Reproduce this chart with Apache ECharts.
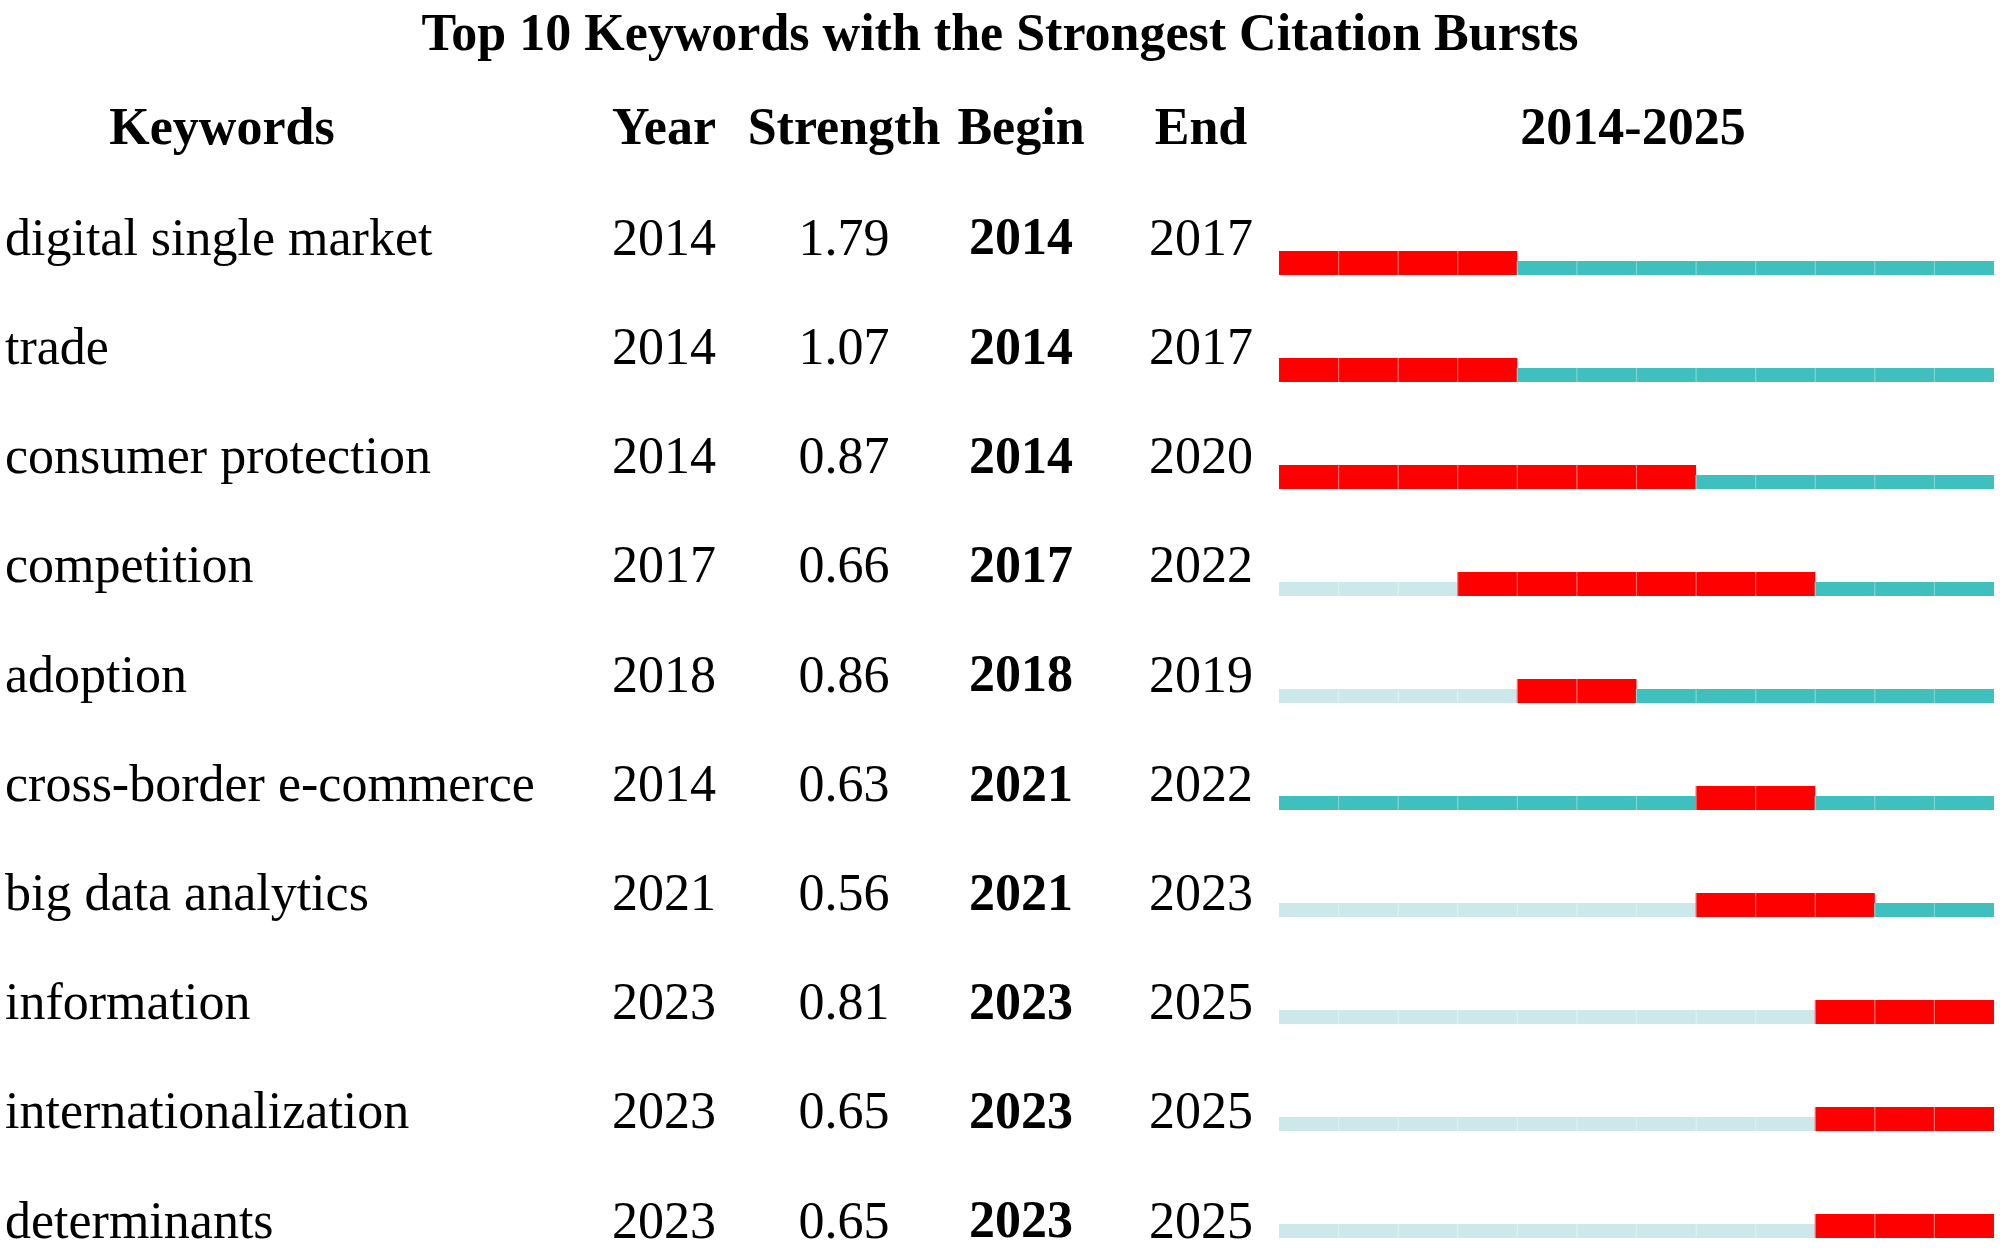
<!DOCTYPE html>
<html>
<head>
<meta charset="utf-8">
<title>Top 10 Keywords with the Strongest Citation Bursts</title>
<script src="https://cdn.jsdelivr.net/npm/echarts@6/dist/echarts.min.js"></script>
<style>
  html, body { margin: 0; padding: 0; background: #ffffff; }
  #chart { width: 2000px; height: 1251px; }
</style>
</head>
<body>
<div id="chart"></div>
<script>
// ---------------- data ----------------
const keywords = ['digital single market', 'trade', 'consumer protection', 'competition', 'adoption',
  'cross-border e-commerce', 'big data analytics', 'information', 'internationalization', 'determinants'];
const years = [2014, 2014, 2014, 2017, 2018, 2014, 2021, 2023, 2023, 2023];
const strengths = [1.79, 1.07, 0.87, 0.66, 0.86, 0.63, 0.56, 0.81, 0.65, 0.65];
const begins = [2014, 2014, 2014, 2017, 2018, 2021, 2021, 2023, 2023, 2023];
const ends = [2017, 2017, 2020, 2022, 2019, 2022, 2023, 2025, 2025, 2025];
const spanStart = 2014;
const spanEnd = 2025;
const headers = ['Keywords', 'Year', 'Strength', 'Begin', 'End', spanStart + '-' + spanEnd];
const titleText = 'Top 10 Keywords with the Strongest Citation Bursts';

// ---------------- layout ----------------
const FONT = '"Liberation Serif", "Times New Roman", Times, serif';
const FS = 52;
const colX = { keyword: 5, year: 664, strength: 844, begin: 1021, end: 1201 };
const headerX = [222, 664, 844, 1021, 1201, 1633];
const headerY = 131;

const COLORS = {
  burst: '#FF0000', burstLine: '#FF6A6A',
  active: '#40BFBF', activeLine: '#7ED4D4',
  before: '#CCE8EA', beforeLine: '#DDF0F1'
};

// cells of the timeline
const cells = [];
keywords.forEach((k, i) => {
  for (let y = spanStart; y <= spanEnd; y++) {
    let t;
    if (y >= begins[i] && y <= ends[i]) t = 2;
    else if (y < years[i]) t = 0;
    else t = 1;
    cells.push([y, i, t]);
  }
});

function textSeries(getText, x, align, bold) {
  return {
    type: 'custom',
    xAxisIndex: 1, yAxisIndex: 1,
    silent: true,
    data: keywords.map((k, i) => [x, i]),
    renderItem: function (params, api) {
      const p = api.coord([api.value(0), api.value(1)]);
      return {
        type: 'text',
        x: p[0], y: p[1],
        style: {
          text: getText(params.dataIndex),
          fill: '#000',
          font: (bold ? 'bold ' : '') + FS + 'px ' + FONT,
          align: align,
          verticalAlign: 'middle'
        }
      };
    }
  };
}

const chart = echarts.init(document.getElementById('chart'), null, { renderer: 'canvas' });

const option = {
  backgroundColor: '#ffffff',
  animation: false,
  title: {
    text: titleText,
    left: 'center',
    top: 6,
    textStyle: { fontFamily: FONT, fontWeight: 'bold', fontSize: FS, color: '#000' }
  },
  grid: [
    { left: 1279, right: 6, top: 268, height: 963 },
    { left: 0, right: 0, top: 241, height: 983 }
  ],
  xAxis: [
    { type: 'value', gridIndex: 0, min: spanStart, max: spanEnd + 1, show: false },
    { type: 'value', gridIndex: 1, min: 0, max: 2000, show: false }
  ],
  yAxis: [
    { type: 'category', gridIndex: 0, data: keywords, inverse: true, boundaryGap: false, show: false },
    { type: 'category', gridIndex: 1, data: keywords, inverse: true, boundaryGap: false, show: false }
  ],
  graphic: headers.map((h, j) => ({
    type: 'text',
    x: headerX[j], y: headerY,
    silent: true,
    style: {
      text: h, fill: '#000',
      font: 'bold ' + FS + 'px ' + FONT,
      align: 'center', verticalAlign: 'middle'
    }
  })),
  series: [
    {
      type: 'custom',
      xAxisIndex: 0, yAxisIndex: 0,
      silent: true,
      data: cells,
      renderItem: function (params, api) {
        const y0 = api.value(0), row = api.value(1), t = api.value(2);
        const a = api.coord([y0, row]);
        const b = api.coord([y0 + 1, row]);
        const bottom = a[1] + 7;
        const h = t === 2 ? 24 : 14;
        const fill = t === 2 ? COLORS.burst : (t === 1 ? COLORS.active : COLORS.before);
        const line = t === 2 ? COLORS.burstLine : (t === 1 ? COLORS.activeLine : COLORS.beforeLine);
        const children = [{
          type: 'rect',
          shape: { x: a[0], y: bottom - h, width: b[0] - a[0], height: h },
          style: { fill: fill }
        }];
        if (y0 > spanStart) {
          children.push({
            type: 'line',
            shape: { x1: a[0], y1: bottom - h, x2: a[0], y2: bottom },
            style: { stroke: line, lineWidth: 1.2 }
          });
        }
        return { type: 'group', children: children };
      }
    },
    textSeries(i => keywords[i], colX.keyword, 'left', false),
    textSeries(i => String(years[i]), colX.year, 'center', false),
    textSeries(i => strengths[i].toFixed(2), colX.strength, 'center', false),
    textSeries(i => String(begins[i]), colX.begin, 'center', true),
    textSeries(i => String(ends[i]), colX.end, 'center', false)
  ]
};

chart.setOption(option);
</script>
</body>
</html>
